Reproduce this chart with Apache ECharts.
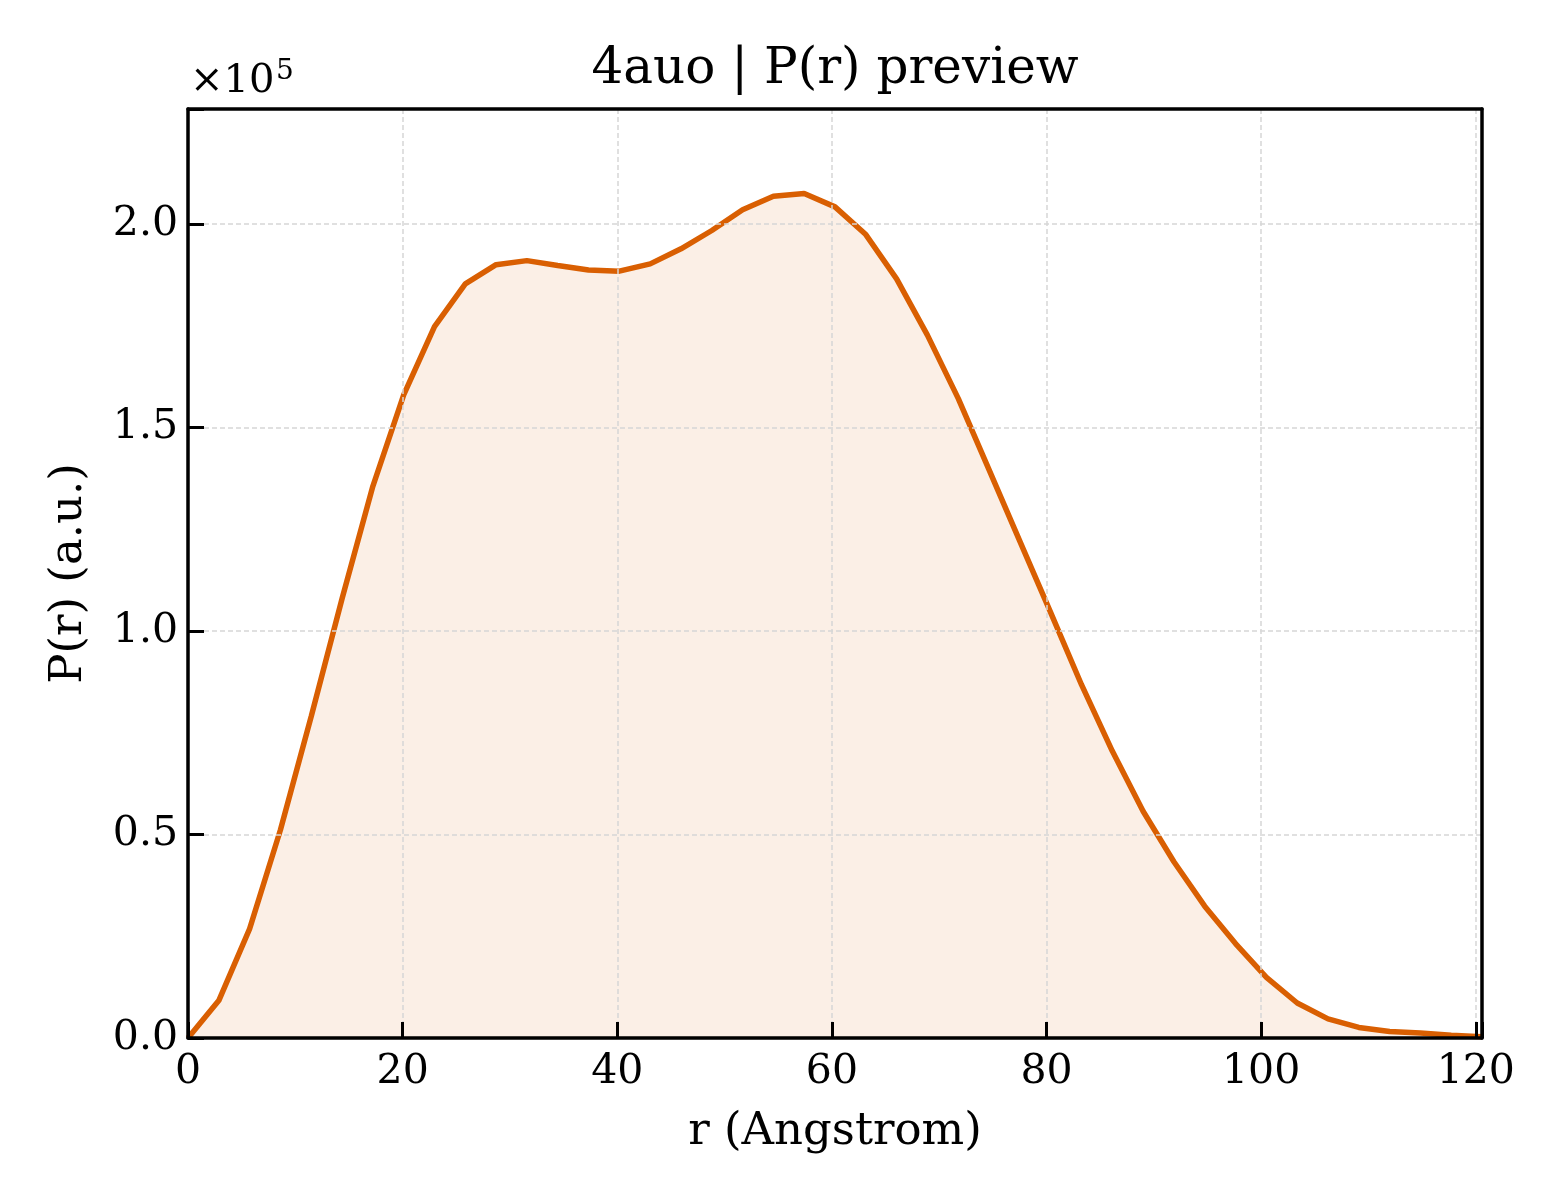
<!DOCTYPE html>
<html>
<head>
<meta charset="utf-8">
<script src="https://cdn.jsdelivr.net/npm/echarts@6/dist/echarts.min.js"></script>
<style>
  html, body { margin: 0; padding: 0; background: #fff; }
  #chart { width: 1560px; height: 1200px; }
</style>
</head>
<body>
<div id="chart"></div>
<script>
// r values (Angstrom)
const rValues = [
  0, 2.87, 5.74, 8.61, 11.48, 14.36, 17.23, 20.10, 22.97, 25.84,
  28.71, 31.58, 34.45, 37.32, 40.19, 43.07, 45.94, 48.81, 51.68, 54.55,
  57.42, 60.29, 63.16, 66.03, 68.90, 71.78, 74.65, 77.52, 80.39, 83.26,
  86.13, 89.00, 91.87, 94.74, 97.61, 100.49, 103.36, 106.23, 109.10, 111.97,
  114.84, 117.71, 120.58
];
// P(r) values (a.u.)
const prValues = [
  0, 9200, 26800, 51100, 79000, 108000, 135600, 158000, 174800, 185300,
  190000, 191000, 189800, 188700, 188400, 190200, 193900, 198400, 203500, 206800,
  207500, 204200, 197400, 186500, 172700, 157100, 139600, 122000, 104500, 86800,
  70500, 55700, 43300, 32400, 23200, 14900, 8600, 4700, 2600, 1600,
  1200, 700, 300
];
const xTicks = [0, 20, 40, 60, 80, 100, 120];
const yTicks = [0, 50000, 100000, 150000, 200000];

const chartDom = document.getElementById('chart');
const myChart = echarts.init(chartDom);
const font = 'DejaVu Serif';
const xMax = rValues[rValues.length - 1];
const yMax = 228250;
const spine = { show: true, onZero: false, lineStyle: { color: '#000', width: 3.5 } };
const grid = { color: '#d6d6d6', width: 1.5, type: [5, 3] };

const option = {
  backgroundColor: '#fff',
  animation: false,
  title: {
    text: '4auo | P(r) preview',
    left: 830,
    top: 40,
    textAlign: 'center',
    textStyle: { fontFamily: font, fontSize: 50, fontWeight: 'normal', color: '#000' }
  },
  graphic: [
    {
      type: 'text',
      left: 190,
      top: 62,
      style: { text: '×10', fontFamily: font, fontSize: 40, fill: '#000' }
    },
    {
      type: 'text',
      left: 276,
      top: 58,
      style: { text: '5', fontFamily: font, fontSize: 28, fill: '#000' }
    }
  ],
  grid: { left: 188, right: 78, top: 109, bottom: 162 },
  xAxis: [
    {
      type: 'value',
      min: 0,
      max: xMax,
      interval: 20,
      name: 'r (Angstrom)',
      nameLocation: 'middle',
      nameGap: 72,
      nameTextStyle: { fontFamily: font, fontSize: 45, color: '#000', verticalAlign: 'top' },
      axisLine: spine,
      axisTick: { show: true, inside: true, length: 16, lineStyle: { color: '#000', width: 3 } },
      axisLabel: {
        fontFamily: font, fontSize: 41, color: '#000', margin: 14,
        formatter: v => (xTicks.indexOf(Math.round(v * 100) / 100) >= 0 ? String(v) : '')
      },
      splitLine: { show: true, lineStyle: grid },
      z: 5
    },
    {
      type: 'value',
      position: 'top',
      min: 0,
      max: xMax,
      axisLine: spine,
      axisTick: { show: false },
      axisLabel: { show: false },
      splitLine: { show: false },
      z: 5
    }
  ],
  yAxis: [
    {
      type: 'value',
      min: 0,
      max: yMax,
      interval: 50000,
      name: 'P(r) (a.u.)',
      nameLocation: 'middle',
      nameGap: 96,
      nameTextStyle: { fontFamily: font, fontSize: 45, color: '#000' },
      axisLine: spine,
      axisTick: { show: true, inside: true, length: 16, lineStyle: { color: '#000', width: 3 } },
      axisLabel: {
        fontFamily: font, fontSize: 41, color: '#000', margin: 10,
        formatter: v => (yTicks.indexOf(v) >= 0 ? (v / 100000).toFixed(1) : '')
      },
      splitLine: { show: true, lineStyle: grid },
      z: 5
    },
    {
      type: 'value',
      position: 'right',
      min: 0,
      max: yMax,
      axisLine: spine,
      axisTick: { show: false },
      axisLabel: { show: false },
      splitLine: { show: false },
      z: 5
    }
  ],
  series: [
    {
      type: 'line',
      data: rValues.map((r, i) => [r, prValues[i]]),
      showSymbol: false,
      smooth: false,
      lineStyle: { color: '#d95f02', width: 5.5 },
      itemStyle: { color: '#d95f02' },
      areaStyle: { color: 'rgba(217,95,2,0.14)', origin: 'start' },
      z: 3
    }
  ]
};

myChart.setOption(option);
</script>
</body>
</html>
